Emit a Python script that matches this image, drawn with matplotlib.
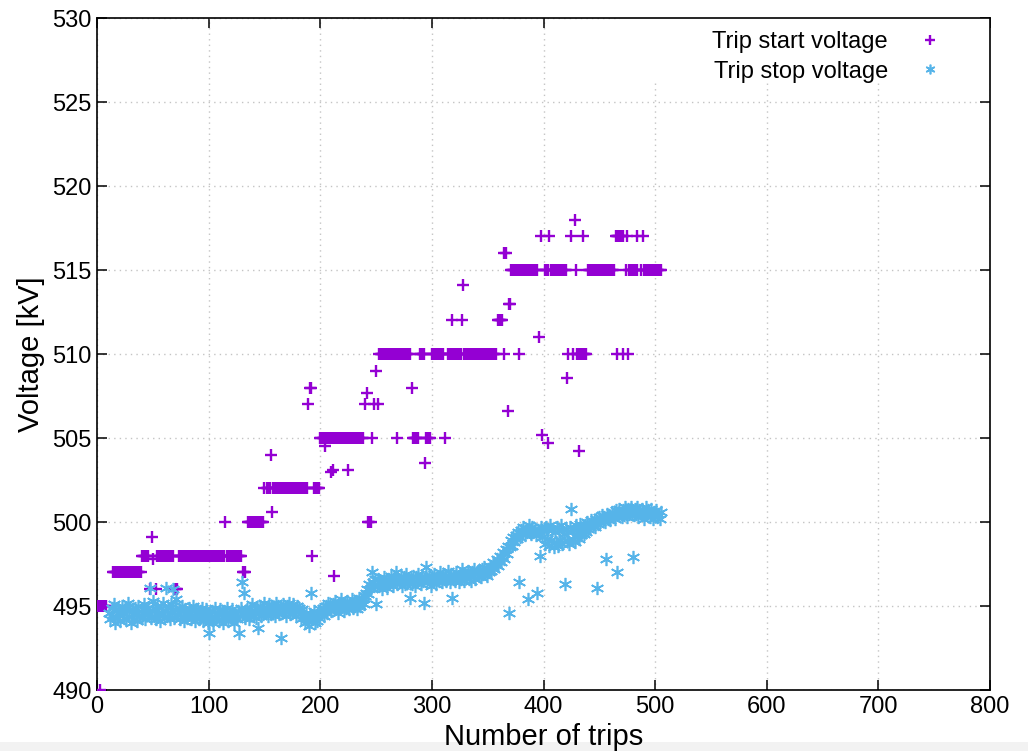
import numpy as np
import matplotlib.pyplot as plt
from matplotlib.patches import Rectangle

plt.rcParams['font.family'] = ['Liberation Sans', 'DejaVu Sans']

# trip start voltage: plateaus (first trip, last trip, kV)
run_first = [1, 14, 40, 54, 73, 117, 131, 135, 152, 158, 195, 200, 226, 253, 270,
             283, 289, 295, 300, 314, 319, 329, 359, 372, 401, 407, 430, 440, 465,
             477, 490]
run_last = [8, 39, 46, 68, 114, 129, 133, 149, 155, 188, 199, 224, 238, 268, 280,
            288, 293, 298, 310, 317, 326, 357, 363, 394, 404, 420, 438, 463, 471,
            484, 505]
run_kv = [495, 497, 498, 498, 498, 498, 497, 500, 502, 502, 502, 505, 505, 510, 510,
          505, 510, 505, 510, 510, 510, 510, 512, 515, 515, 515, 510, 515, 517,
          515, 515]

# trip start voltage: isolated trips
single_trips = [3, 47, 49, 50, 53, 70, 71, 72, 115, 116, 150, 156, 157, 189, 191,
                192, 193, 194, 204, 210, 211, 212, 225, 240, 242, 243, 244, 245, 246,
                248, 250, 252, 269, 282, 294, 312, 318, 327, 328, 365, 365, 366, 368,
                369, 370, 371, 378, 396, 398, 399, 404, 405, 421, 422, 425, 426, 428,
                429, 432, 435, 466, 471, 474, 475, 476, 484, 487, 489]
single_kv = [490, 496, 499.1, 497.8, 496, 496, 496, 496, 500, 498, 502, 504, 500.6,
             507, 508, 508, 498, 502, 504.5, 503, 503.1, 496.8, 503.1, 507, 507.7,
             500, 500, 500, 505, 507, 509, 507, 505, 508, 503.5, 505, 512, 512,
             514.1, 510, 516, 516, 506.6, 513, 513, 515, 510, 511, 517, 505.2,
             504.7, 517, 508.6, 510, 517, 510, 518, 515, 504.2, 517, 510, 510, 515,
             517, 510, 517, 515, 517]

# trip stop voltage, trips 11 .. 505
stop_first_trip = 11
stop_kv = [
    494.6, 494.2, 494.9, 494.4, 495.1, 494.0, 494.7, 494.3, 494.8, 494.5,
    494.1, 495.0, 494.6, 494.3, 494.9, 494.2, 494.7, 495.2, 494.4, 494.0,
    494.8, 494.5, 494.2, 494.9, 494.6, 494.1, 495.0, 494.4, 494.7, 494.3,
    494.6, 495.1, 494.2, 494.8, 494.5, 494.9, 496.1, 494.3, 494.7, 495.3,
    494.4, 494.8, 494.2, 495.0, 494.6, 494.1, 494.9, 494.5, 495.2, 494.3,
    494.7, 496.1, 494.4, 494.9, 494.2, 495.1, 494.6, 496.0, 494.3, 494.8,
    495.4, 494.5, 494.9, 494.2, 494.7, 495.0, 494.4, 494.1, 494.8, 494.5,
    494.3, 494.9, 494.6, 494.2, 494.7, 495.0, 494.4, 494.1, 494.8, 494.5,
    494.2, 494.7, 494.4, 494.9, 494.1, 494.6, 494.3, 494.8, 494.0, 493.4,
    494.5, 494.2, 494.7, 494.0, 494.4, 494.9, 494.3, 494.6, 494.1, 494.8,
    494.2, 494.5, 494.0, 494.7, 494.3, 494.9, 494.1, 494.6, 494.4, 494.2,
    494.8, 494.3, 494.0, 494.6, 494.2, 494.7, 493.4, 494.4, 494.9, 496.4,
    494.5, 495.8, 494.3, 494.8, 494.6, 494.2, 494.9, 494.5, 495.1, 494.4,
    494.7, 494.3, 494.9, 493.7, 494.6, 495.0, 494.4, 494.8, 494.5, 495.2,
    494.6, 494.9, 494.4, 495.1, 494.7, 494.5, 495.0, 494.8, 494.4, 495.2,
    494.7, 495.0, 494.5, 494.9, 493.1, 494.6, 495.1, 494.8, 494.4, 495.0,
    494.7, 495.2, 494.5, 494.9, 494.6, 495.1, 494.8, 494.4, 495.0, 494.7,
    494.9, 494.5, 494.2, 494.8, 494.4, 494.0, 494.6, 494.3, 494.1, 493.8,
    494.5, 495.8, 494.2, 494.7, 494.0, 494.4, 494.1, 494.6, 494.3, 494.8,
    494.5, 494.9, 494.4, 494.7, 495.0, 494.6, 495.2, 494.8, 495.0, 494.7,
    495.1, 494.8, 495.3, 494.9, 495.0, 494.6, 495.2, 494.9, 495.4, 495.0,
    494.7, 495.2, 494.9, 495.3, 495.0, 494.8, 495.1, 495.4, 494.9, 495.2,
    495.0, 495.3, 494.8, 495.1, 495.5, 495.0, 495.2, 495.4, 495.1, 495.6,
    495.8, 496.0, 495.7, 496.3, 496.1, 497.0, 496.4, 496.2, 496.6, 495.1,
    496.3, 496.6, 496.2, 496.5, 496.0, 496.4, 496.7, 496.3, 496.5, 496.1,
    496.6, 496.3, 496.8, 496.4, 496.2, 496.7, 496.5, 497.0, 496.3, 496.6,
    496.4, 496.8, 496.2, 496.5, 496.7, 496.3, 496.9, 496.5, 496.4, 495.5,
    496.6, 496.3, 496.8, 496.5, 496.2, 496.7, 496.4, 496.9, 496.6, 496.3,
    496.8, 496.5, 495.2, 496.7, 497.3, 496.4, 496.8, 496.5, 496.2, 496.7,
    496.5, 496.9, 496.6, 496.3, 496.8, 496.5, 497.0, 496.7, 496.4, 496.9,
    496.6, 496.8, 496.5, 497.1, 496.7, 496.4, 496.9, 495.5, 496.6, 496.8,
    496.5, 497.0, 496.7, 496.4, 496.9, 496.6, 497.2, 496.8, 496.5, 496.9,
    496.7, 497.1, 496.6, 496.9, 496.5, 497.0, 496.8, 497.2, 496.6, 496.9,
    497.1, 496.8, 497.0, 496.7, 497.2, 496.9, 497.3, 497.0, 496.8, 497.2,
    497.0, 497.4, 497.1, 497.3, 497.6, 497.2, 497.5, 497.8, 497.4, 497.7,
    498.0, 497.6, 497.9, 498.2, 497.8, 498.4, 498.1, 498.6, 494.6, 498.5,
    498.9, 498.6, 499.1, 498.8, 499.2, 499.0, 499.4, 496.4, 499.1, 499.5,
    499.3, 499.7, 499.2, 499.6, 499.4, 495.4, 499.8, 499.5, 499.3, 499.7,
    499.4, 499.6, 499.2, 495.8, 499.5, 499.3, 498.0, 499.7, 499.1, 499.6,
    498.7, 499.7, 499.0, 499.5, 498.6, 499.8, 498.9, 499.6, 498.5, 499.4,
    498.8, 499.7, 498.6, 499.5, 498.9, 499.8, 498.7, 499.3, 496.3, 499.6,
    498.9, 499.4, 498.7, 499.7, 500.8, 499.0, 499.5, 498.8, 499.8, 499.2,
    499.6, 499.0, 499.9, 499.2, 499.7, 499.3, 499.8, 499.4, 500.0, 499.6,
    499.9, 499.7, 500.1, 499.8, 500.0, 499.7, 500.2, 496.1, 499.9, 500.3,
    500.0, 500.4, 500.1, 500.3, 500.0, 497.8, 500.5, 500.2, 500.4, 500.1,
    500.6, 500.3, 500.5, 500.2, 500.7, 497.0, 500.4, 500.8, 500.5, 500.3,
    500.7, 500.4, 500.9, 500.6, 500.3, 500.8, 500.5, 500.9, 500.6, 497.9,
    500.4, 500.8, 500.5, 500.9, 500.3, 500.7, 500.4, 500.8, 500.5, 500.2,
    500.6, 500.9, 500.4, 500.7, 500.3, 500.8, 500.5, 500.2, 500.6, 500.4,
    500.7, 500.3, 500.5, 500.2, 500.6,
]

x_ticks = [0, 100, 200, 300, 400, 500, 600, 700, 800]
y_ticks = [490, 495, 500, 505, 510, 515, 520, 525, 530]

start_x = np.concatenate([np.arange(a, b + 1) for a, b in zip(run_first, run_last)]
                         + [np.array(single_trips)])
start_y = np.concatenate([np.full(b - a + 1, float(v)) for a, b, v in zip(run_first, run_last, run_kv)]
                         + [np.array(single_kv, dtype=float)])
stop_x = np.arange(stop_first_trip, stop_first_trip + len(stop_kv))

fig = plt.figure(figsize=(10.28, 7.51), dpi=100)
# light strip at the bottom edge of the original screenshot
fig.patches.append(Rectangle((0, 0), 1, 9 / 751, transform=fig.transFigure,
                             facecolor='#f2f2f2', edgecolor='none', zorder=-1))
ax = fig.add_axes([0.0944, 0.0812, 0.8686, 0.8948])

ax.set_axisbelow(True)
ax.grid(True, color='#c4c4c4', linestyle=(0, (1, 3)), linewidth=1.0, zorder=0.5)

# white area behind the key, hides the grid there (gnuplot style)
ax.add_patch(Rectangle((0.586, 0.905), 0.414, 0.095, transform=ax.transAxes,
                       facecolor='white', edgecolor='none', zorder=1))

ax.plot(start_x, start_y, ls='none', marker='+', color='#9400D3', ms=8, mew=1.7,
        label='Trip start voltage', zorder=3)
ax.plot(stop_x, stop_kv, ls='none', marker=(6, 2, 0), color='#56B4E9', ms=9.5, mew=1.2,
        label='Trip stop voltage', zorder=4)

ax.set_xlim(0, 800)
ax.set_ylim(490, 530)
ax.set_xticks(x_ticks)
ax.set_yticks(y_ticks)
ax.tick_params(direction='in', length=7, width=1.1, labelsize=17, top=True, right=True,
               pad=4)
for s in ax.spines.values():
    s.set_linewidth(1.2)

ax.set_xlabel('Number of trips', fontsize=21, labelpad=4)
ax.set_ylabel('Voltage [kV]', fontsize=21, labelpad=5)

leg = ax.legend(loc='upper right', bbox_to_anchor=(0.9597, 0.98), frameon=False,
                markerfirst=False, fontsize=17, handlelength=2.0, handletextpad=0.8,
                borderaxespad=0, borderpad=0, labelspacing=0.3)
for h in leg.legend_handles:
    h.set_markersize(7)

fig.savefig('out.png', dpi=100)
